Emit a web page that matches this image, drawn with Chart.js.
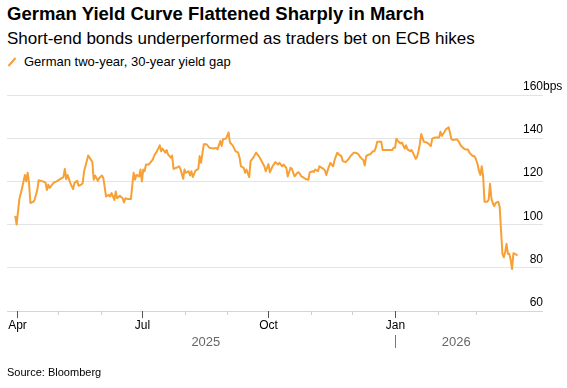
<!DOCTYPE html>
<html>
<head>
<meta charset="utf-8">
<script src="https://cdn.jsdelivr.net/npm/chart.js@4.4.1/dist/chart.umd.min.js"></script>
<style>
  html, body { margin: 0; padding: 0; background: #fff; }
  body {
    width: 567px;
    height: 388px;
    position: relative;
    overflow: hidden;
    font-family: "Liberation Sans", Arial, sans-serif;
    color: #000;
  }
  .txt { position: absolute; left: 7px; white-space: nowrap; }
  #title { top: 3px; font-size: 18.5px; font-weight: bold; }
  #subtitle { top: 29px; font-size: 17px; }
  #legend { top: 54px; left: 24px; font-size: 13px; }
  #legend-icon {
    position: absolute;
    left: 7px;
    top: 57px;
    width: 10px;
    height: 10px;
  }
  #source { top: 366px; font-size: 11px; }
  #chart-box { position: absolute; left: 0; top: 0; width: 567px; height: 388px; }
</style>
</head>
<body>
<div class="txt" id="title">German Yield Curve Flattened Sharply in March</div>
<div class="txt" id="subtitle">Short-end bonds underperformed as traders bet on ECB hikes</div>
<svg id="legend-icon" viewBox="0 0 10 10"><line x1="1.5" y1="9" x2="8.5" y2="1" stroke="#f7a035" stroke-width="2"/></svg>
<div class="txt" id="legend">German two-year, 30-year yield gap</div>
<div id="chart-box"><canvas id="chart" width="567" height="388"></canvas></div>
<div class="txt" id="source">Source: Bloomberg</div>

<script>
// Day 0 is 2025-04-01; values are the 2y/30y spread in basis points.
const START_DATE = "2025-04-01";

const days = [
  -1, 0, 2, 4, 6, 7, 8, 9, 10, 12, 13, 15, 16, 19, 21, 22, 23, 24, 27, 29,
  31, 34, 35, 36, 37, 39, 41, 42, 44, 45, 47, 48, 49, 50, 52, 53, 55, 56, 57, 59,
  60, 62, 63, 65, 67, 68, 69, 71, 72, 73, 75, 77, 78, 79, 81, 83, 84, 85, 86, 87,
  89, 90, 91, 92, 93, 94, 96, 98, 99, 100, 102, 104, 105, 106, 108, 109, 110, 112, 113, 114,
  116, 118, 119, 121, 122, 123, 125, 126, 127, 128, 130, 132, 133, 134, 136, 138, 140, 143, 145, 146,
  148, 149, 150, 152, 153, 154, 155, 157, 159, 161, 162, 163, 165, 166, 167, 169, 170, 172, 174, 176,
  178, 180, 181, 183, 184, 186, 188, 190, 191, 193, 194, 196, 197, 199, 200, 202, 204, 205, 207, 208,
  210, 212, 213, 215, 216, 217, 219, 220, 223, 224, 225, 227, 228, 230, 231, 233, 234, 236, 237, 239,
  241, 243, 245, 246, 248, 250, 252, 253, 254, 256, 257, 259, 260, 261, 262, 265, 266, 268, 270, 273,
  274, 275, 276, 277, 279, 280, 282, 283, 284, 286, 287, 288, 290, 291, 292, 293, 294, 296, 298, 299,
  301, 302, 304, 307, 308, 309, 311, 312, 314, 315, 316, 317, 320, 321, 323, 325, 326, 328, 329, 331,
  333, 334, 335, 336, 337, 338, 339, 340, 341, 342, 343, 344, 345, 346, 347, 348, 350, 351, 352, 353,
  354, 355, 356, 357, 358, 359, 360, 361, 362, 364,
];

const spread = [
  104, 100, 112, 117, 123, 120, 124, 119.4, 110, 110.5, 111.4, 116, 120.5, 120, 119.4, 116, 118.5, 117, 119.4, 120,
  120.8, 122, 125.8, 121, 123, 119.2, 116.4, 119.2, 120.3, 118, 118.5, 119.2, 124.7, 127, 132, 131, 129, 120.8, 122.7, 120.3,
  121.6, 122.7, 121.6, 113, 113.8, 113, 114.6, 111.4, 115.3, 112.2, 113.3, 112.2, 110.2, 112.2, 111.8, 111.8, 117.7, 124, 120.8, 123,
  122.3, 125.5, 120, 125.5, 124.7, 127.8, 127.8, 129.4, 130.2, 132, 134, 136.7, 134, 135.2, 133.3, 134.5, 132.5, 131, 132, 125.8,
  126.3, 127, 125.8, 121.2, 125.5, 124, 124.7, 122.7, 124.7, 122, 125, 125.8, 131.7, 128.6, 137.2, 137.2, 135.6, 135.2, 135.5, 134.8,
  138.7, 136.4, 139.5, 139.8, 141, 142.7, 138, 136.7, 134, 133.3, 131, 127, 126.3, 124, 125.5, 122, 129.4, 131, 133.3, 131.7,
  129.4, 127, 124.7, 128, 124.2, 127, 128.9, 127.8, 128.6, 127, 127.8, 126.3, 122.3, 126.3, 125.8, 122.3, 124, 124.2, 122.3, 122,
  121.1, 120.8, 124.2, 124.7, 124.4, 125.5, 124.7, 127, 125.8, 125.2, 123, 127, 128.6, 127, 129.8, 133.3, 132.5, 131.7, 129.4, 128.9,
  130.2, 132, 133.3, 133.3, 132.8, 131, 129.8, 127.4, 131.7, 132.5, 132.5, 134, 134, 135.6, 138.3, 138.3, 134.5, 134.5, 134.5, 134.5,
  135.6, 135.6, 139.8, 138.7, 137.6, 138, 135.2, 136.7, 134.8, 134, 134.5, 133.3, 130.5, 131.4, 134, 137.2, 141.9, 138.3, 138, 137.6,
  136.4, 139.8, 140.3, 140.3, 143, 141.1, 143, 144.2, 145, 142.3, 139.5, 139.2, 139.5, 138.7, 136.4, 135.2, 134.8, 134.8, 133.3, 132,
  131.4, 129.8, 127.8, 124.7, 123, 127, 122.3, 110.6, 110.6, 110.6, 111.4, 118.9, 112.2, 109.9, 108.6, 109.9, 110.6, 108.3, 97.4, 86.5,
  84.9, 87.3, 91.1, 86.5, 86.5, 83.7, 79.4, 86.7, 86.5, 85.7,
];

// Value axis
const Y_TICKS = [60, 80, 100, 120, 140, 160];
const Y_UNIT = "bps";

// Time axis: monthly tick marks, labels on quarter starts
const MONTH_STARTS = [
  "2025-04-01", "2025-05-01", "2025-06-01", "2025-07-01", "2025-08-01", "2025-09-01",
  "2025-10-01", "2025-11-01", "2025-12-01", "2026-01-01", "2026-02-01", "2026-03-01",
];
const QUARTER_LABELS = ["Apr", "Jul", "Oct", "Jan"];
const QUARTER_DATES = ["2025-04-01", "2025-07-01", "2025-10-01", "2026-01-01"];
const YEAR_LABELS = ["2025", "2026"];
const YEAR_BREAK = "2026-01-01";

const LINE_COLOR = "#f7a035";
const FONT = '"Liberation Sans", Arial, sans-serif';

function dayOf(dateStr) {
  const ms = Date.parse(dateStr + "T00:00:00Z") - Date.parse(START_DATE + "T00:00:00Z");
  return Math.round(ms / 86400000);
}

const points = days.map((d, i) => ({ x: d, y: spread[i] }));

// Draws the value labels (above gridlines, right side) and the date axis.
const axisDecor = {
  id: "axisDecor",
  afterDraw(chart) {
    const { ctx, chartArea, scales } = chart;
    const xs = scales.x;
    const ys = scales.y;
    const bottom = chartArea.bottom;

    ctx.save();

    // value labels
    ctx.font = `12px ${FONT}`;
    ctx.fillStyle = "#000";
    ctx.textBaseline = "alphabetic";
    Y_TICKS.forEach((v, i) => {
      const py = ys.getPixelForValue(v) - 5;
      ctx.textAlign = "right";
      ctx.fillText(String(v), chartArea.right, py);
      if (i === Y_TICKS.length - 1) {
        ctx.textAlign = "left";
        ctx.fillText(Y_UNIT, chartArea.right, py);
      }
    });

    // axis line
    ctx.strokeStyle = "#d6d6d6";
    ctx.lineWidth = 1;
    ctx.beginPath();
    ctx.moveTo(chartArea.left, bottom + 0.5);
    ctx.lineTo(chartArea.right, bottom + 0.5);
    ctx.stroke();

    // minor month ticks
    MONTH_STARTS.forEach((d) => {
      if (QUARTER_DATES.includes(d)) return;
      const px = Math.round(xs.getPixelForValue(dayOf(d))) + 0.5;
      ctx.strokeStyle = "#cfcfcf";
      ctx.beginPath();
      ctx.moveTo(px, bottom);
      ctx.lineTo(px, bottom + 4);
      ctx.stroke();
    });

    // quarter ticks + labels
    ctx.font = `12px ${FONT}`;
    ctx.fillStyle = "#000";
    ctx.textAlign = "center";
    ctx.textBaseline = "middle";
    QUARTER_DATES.forEach((d, i) => {
      const px = Math.round(xs.getPixelForValue(dayOf(d))) + 0.5;
      ctx.strokeStyle = "#555";
      ctx.beginPath();
      ctx.moveTo(px, bottom);
      ctx.lineTo(px, bottom + 7);
      ctx.stroke();
      ctx.fillText(QUARTER_LABELS[i], px, bottom + 15);
    });

    // year labels, centred on the part of each year that has data
    const firstDay = days[0] < 0 ? 0 : days[0];
    const lastDay = days[days.length - 1];
    const breakDay = dayOf(YEAR_BREAK);
    const breakX = Math.round(xs.getPixelForValue(breakDay)) + 0.5;
    ctx.fillStyle = "#666";
    ctx.font = `13px ${FONT}`;
    const y2025 = (xs.getPixelForValue(firstDay) + xs.getPixelForValue(breakDay)) / 2;
    const y2026 = (xs.getPixelForValue(breakDay) + xs.getPixelForValue(lastDay)) / 2;
    ctx.fillText(YEAR_LABELS[0], y2025, bottom + 31);
    ctx.fillText(YEAR_LABELS[1], y2026, bottom + 31);
    ctx.strokeStyle = "#777";
    ctx.beginPath();
    ctx.moveTo(breakX, bottom + 24);
    ctx.lineTo(breakX, bottom + 37);
    ctx.stroke();

    ctx.restore();
  },
};

new Chart(document.getElementById("chart"), {
  type: "line",
  data: {
    datasets: [
      {
        label: "German two-year, 30-year yield gap",
        data: points,
        borderColor: LINE_COLOR,
        borderWidth: 2,
        pointRadius: 0,
        tension: 0,
        borderJoinStyle: "round",
      },
    ],
  },
  options: {
    responsive: false,
    animation: false,
    layout: { padding: { left: 7, right: 24, top: 95, bottom: 77 } },
    scales: {
      x: {
        type: "linear",
        min: -7,
        max: 382.5,
        display: false,
      },
      y: {
        position: "right",
        min: 60,
        max: 160,
        afterBuildTicks: (axis) => {
          axis.ticks = Y_TICKS.map((v) => ({ value: v }));
        },
        ticks: { display: false },
        grid: { color: "#e4e4e4", lineWidth: 1, drawTicks: false },
        border: { display: false },
      },
    },
    plugins: {
      legend: { display: false },
      tooltip: { enabled: false },
    },
  },
  plugins: [axisDecor],
});
</script>
</body>
</html>
